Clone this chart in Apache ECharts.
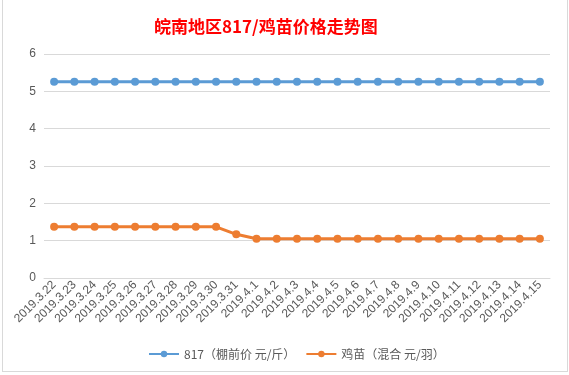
<!DOCTYPE html>
<html><head><meta charset="utf-8">
<script src="https://cdn.jsdelivr.net/npm/echarts@6/dist/echarts.min.js"></script>
<style>
html,body{margin:0;padding:0;background:#fff;}
#wrap{position:absolute;left:0;top:0;width:569px;height:375px;overflow:hidden;}
#c{position:absolute;left:2px;top:0px;width:564px;height:371px;border:1px solid #d9d9d9;border-top:none;background:#fff;}
</style></head>
<body><div id="wrap"><div id="c"></div></div>
<script>
const categories = ['2019.3.22','2019.3.23','2019.3.24','2019.3.25','2019.3.26','2019.3.27','2019.3.28','2019.3.29','2019.3.30','2019.3.31',
 '2019.4.1','2019.4.2','2019.4.3','2019.4.4','2019.4.5','2019.4.6','2019.4.7','2019.4.8','2019.4.9','2019.4.10','2019.4.11','2019.4.12','2019.4.13','2019.4.14','2019.4.15'];
const broiler817 = [5.26,5.26,5.26,5.26,5.26,5.26,5.26,5.26,5.26,5.26,5.26,5.26,5.26,5.26,5.26,5.26,5.26,5.26,5.26,5.26,5.26,5.26,5.26,5.26,5.26];
const chick = [1.37,1.37,1.37,1.37,1.37,1.37,1.37,1.37,1.37,1.17,1.05,1.05,1.05,1.05,1.05,1.05,1.05,1.05,1.05,1.05,1.05,1.05,1.05,1.05,1.05];
const seriesNames = ['817（棚前价 元/斤）','鸡苗（混合 元/羽）'];
const yTicks = {min:0,max:6,interval:1};

const chart = echarts.init(document.getElementById('c'));
chart.setOption({
  animation:false,
  title:{text:'皖南地区817/鸡苗价格走势图',left:146,top:13,
    textStyle:{color:'#ff0000',fontSize:17,fontWeight:'bold',fontFamily:'Noto Sans CJK SC'}},
  legend:{top:343,left:140,itemWidth:30,itemHeight:8,itemGap:10,
    textStyle:{color:'#595959',fontSize:12,fontFamily:'Noto Sans CJK SC'},
    data:seriesNames},
  grid:{left:41,right:17,top:54,bottom:93},
  xAxis:{type:'category',data:categories,boundaryGap:true,
    axisLine:{show:true,lineStyle:{color:'#d9d9d9'}},axisTick:{show:false},
    axisLabel:{rotate:45,interval:0,color:'#595959',fontSize:12,fontFamily:'Liberation Sans',margin:5}},
  yAxis:{type:'value',min:yTicks.min,max:yTicks.max,interval:yTicks.interval,
    axisLine:{show:false},axisTick:{show:false},
    axisLabel:{color:'#595959',fontSize:12,margin:8},
    splitLine:{lineStyle:{color:'#d9d9d9',width:1}}},
  series:[
    {name:seriesNames[0],type:'line',data:broiler817,symbol:'circle',symbolSize:8,
     lineStyle:{color:'#5b9bd5',width:3},itemStyle:{color:'#5b9bd5'}},
    {name:seriesNames[1],type:'line',data:chick,symbol:'circle',symbolSize:8,
     lineStyle:{color:'#ed7d31',width:3},itemStyle:{color:'#ed7d31'}}
  ]
});
</script></body></html>
